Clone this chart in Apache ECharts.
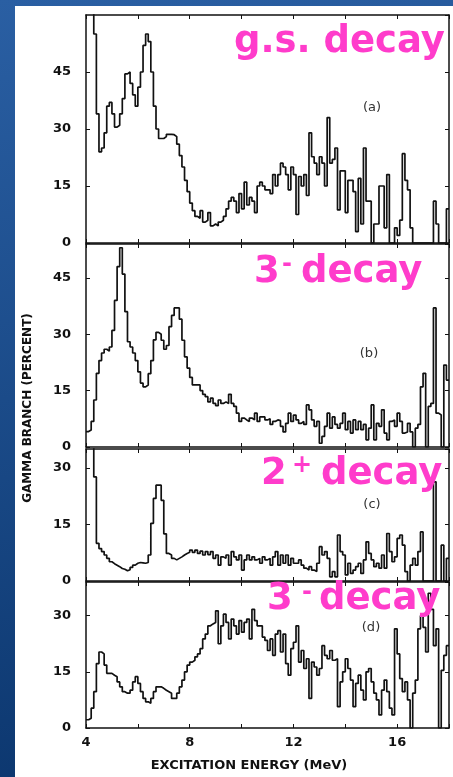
<!DOCTYPE html>
<html><head><meta charset="utf-8">
<script src="https://cdn.jsdelivr.net/npm/echarts@6/dist/echarts.min.js"></script>
<style>html,body{margin:0;padding:0;background:#1b4f8f;}#c{width:453px;height:777px;}</style>
</head><body><div id="c"></div>
<script>
// Excitation-energy bins: first bin starts at 4 MeV, bins are 0.1 MeV wide
const E_START = 4, E_END = 18, BIN_WIDTH = 0.1;

// (a) ground-state decay, gamma branch (percent) per bin
const gsDecay = [
  70, 70, 70, 55, 34, 24, 25, 29, 36, 37,
  34, 30.5, 31, 34, 38, 44.5, 45, 42, 39, 36,
  41, 45, 52, 55, 53, 45, 36, 30, 27.5, 27.5,
  28, 28.6, 28.6, 28.5, 28, 26, 23, 20, 16.5, 13.5,
  10.5, 8.5, 7, 6.5, 8.5, 5.5, 6, 8, 4.5, 5,
  4.5, 5.5, 6, 7, 9, 11, 12, 11, 8, 13,
  9, 16, 10, 12, 11, 8, 15, 16, 15, 14,
  14, 13, 18, 15, 18, 21, 20, 18, 14, 20,
  18, 7.5, 17.5, 15, 18, 12.5, 29, 22.7, 21, 18,
  22.7, 21, 15, 33, 21, 22, 25, 8.7, 19, 19,
  8, 16.5, 16.5, 13.5, 3, 17, 5, 25, 11, 11,
  0, 5, 5, 15, 15, 4, 18, 0, 0, 4,
  2, 6, 23.5, 16.5, 14, 4, 0, 0, 0, 0,
  0, 0, 0, 0, 11, 5, 0, 0, 0, 9
];
// (b) 3- decay
const minus3DecayB = [
  4.1, 4.5, 6.8, 12.5, 19.6, 23, 25, 26, 25.5, 26.6,
  31, 39, 48, 53, 46, 36, 28, 26.6, 25, 23,
  20, 17, 16, 16.5, 19.5, 23, 28.5, 30.5, 30, 28.4,
  26, 27, 32, 35, 37, 37, 34, 28.4, 24, 21,
  18.5, 16.5, 16.5, 16.5, 15, 14, 13.4, 12, 13, 11.6,
  11, 12.5, 11.6, 12, 11.6, 14, 11.6, 10.8, 9, 6.8,
  7.7, 7.2, 6.8, 7.7, 7.2, 9, 6.8, 8, 8, 7.2,
  7.5, 6, 6.8, 7.2, 7, 5.5, 4, 6.3, 9, 6.8,
  8.5, 7.2, 6.3, 6.8, 6, 11.2, 9.9, 7.2, 5.5, 6.8,
  1, 2.8, 5.5, 9, 5, 8, 6, 5, 6.3, 9,
  4.6, 6.8, 3.7, 7.2, 4.6, 6.8, 4.6, 6, 1.9, 5,
  11.2, 1.9, 6.3, 5.5, 9.9, 3.7, 1.9, 6.8, 7.2, 5.5,
  9, 6.8, 3.7, 4, 6.3, 4, 0, 5, 6, 16,
  19.6, 0, 10.8, 11.6, 37, 9, 8.5, 0, 21.8, 17.8
];
// (c) 2+ decay
const plus2Decay = [
  40, 40, 40, 27.6, 10, 8.6, 7.8, 6.9, 6, 5.1,
  4.6, 4.2, 3.8, 3.3, 3.1, 2.7, 3, 3.6, 4.2, 4.7,
  4.9, 4.8, 4.7, 4.9, 6.9, 15.3, 21.9, 25.4, 25.4, 21.4,
  12.5, 7.3, 6.9, 6, 5.6, 6, 6.4, 6.9, 7.3, 7.6,
  8.2, 7.6, 8.2, 7.3, 7.9, 6.9, 7.8, 7, 7.8, 6,
  6.9, 4.2, 6.4, 6, 6.9, 4.2, 7.8, 6.4, 5.6, 6.9,
  2.9, 5.6, 6.9, 5.6, 6.4, 5.6, 6, 4.7, 6.4, 5.6,
  6, 4.2, 6.4, 7.8, 4.2, 6.9, 4.7, 6.9, 4.2, 6,
  4.7, 4.7, 5.6, 4.2, 3.4, 2.9, 3.8, 2.9, 2.5, 4.7,
  9.1, 6.9, 7.8, 6, 1.1, 2.5, 1.1, 12.2, 7.8, 6.9,
  1.6, 4.7, 2, 2.9, 3.8, 4.7, 2, 5.6, 10.4, 7.3,
  5.6, 3.8, 4.7, 3.4, 6.9, 3.4, 12.6, 7.8, 5.1, 6.4,
  11.3, 12.2, 9.5, 2.5, 0, 4.2, 6, 4.2, 7.8, 13,
  0, 0, 0, 0, 26.3, 0, 0, 9.5, 0, 6
];
// (d) 3- decay
const minus3DecayD = [
  2.2, 2.6, 5.3, 9.7, 17.2, 20.3, 19.8, 16.8, 14.6, 14.6,
  14.1, 13.7, 12.3, 11, 9.7, 9.3, 9.3, 10.1, 12.3, 13.7,
  11.9, 9.7, 7.9, 7, 6.6, 7.9, 9.7, 11, 11, 10.6,
  10.1, 9.7, 9.3, 7.9, 7.9, 9.3, 11, 12.8, 15, 16.8,
  17.6, 18.1, 19, 19.8, 21.2, 23.8, 25.1, 27.3, 27.8, 28.2,
  31.3, 22.5, 27.3, 30.4, 28.2, 23.8, 29.1, 27.3, 25.1, 28.7,
  25.6, 28.2, 29.1, 23.8, 31.7, 28.7, 27.3, 27.3, 24.3, 23.4,
  20.7, 23.8, 19.4, 25.1, 26, 20.3, 25.1, 17.2, 14.1, 21.2,
  22.9, 27.3, 17.6, 20.7, 15.9, 18.5, 7.9, 17.6, 16.3, 14.1,
  15.9, 22, 19.4, 18.5, 20.7, 18.1, 18.5, 5.7, 12.3, 15,
  18.5, 15.9, 12.8, 5.7, 11.9, 14.1, 10.1, 7.5, 15, 15.9,
  12.3, 9.3, 7.5, 3.5, 10.1, 12.8, 9.7, 5.3, 3.5, 26.5,
  19.8, 13.2, 9.7, 12.3, 7.5, 0, 9.3, 12.8, 26.5, 30,
  26.9, 20.3, 36, 31.7, 22, 26.5, 0, 15.4, 19.4, 22
];

const panelSeries = [gsDecay, minus3DecayB, plus2Decay, minus3DecayD];
const panelYMax = [60, 54, 35, 39];
const panelYTicks = [[0, 15, 30, 45], [0, 15, 30, 45], [0, 15, 30], [0, 15, 30]];
const xTickLabels = [4, 8, 12, 16];
const panelTags = ['(a)', '(b)', '(c)', '(d)'];
const yTitle = 'GAMMA BRANCH (PERCENT)';
const xTitle = 'EXCITATION ENERGY (MeV)';

const INK = '#111';
const PINK = '#ff3ccb';
const gridBoxes = [
  {top: 15, height: 228},
  {top: 244, height: 203},
  {top: 449, height: 132},
  {top: 582, height: 146}
];

function histPoints(vals) {
  const pts = vals.map((v, k) => [+(E_START + k * BIN_WIDTH).toFixed(2), v]);
  pts.push([E_END, vals[vals.length - 1]]);
  return pts;
}

const grid = [], xAxis = [], yAxis = [], series = [];
gridBoxes.forEach((g, i) => {
  grid.push({left: 86, right: 4, top: g.top, height: g.height, containLabel: false});
  const lineStyle = {color: INK, width: 1.5};
  const tick = {inside: true, length: 4, lineStyle: {color: INK, width: 1}};
  ['bottom', 'top'].forEach(pos => {
    xAxis.push({
      type: 'value', gridIndex: i, position: pos, min: E_START, max: E_END, interval: 2,
      axisLine: {show: true, onZero: false, lineStyle},
      axisTick: tick, splitLine: {show: false},
      axisLabel: {
        show: pos === 'bottom' && i === 3,
        formatter: v => xTickLabels.includes(v) ? String(v) : '',
        color: INK, fontWeight: 'bold', fontSize: 13, fontFamily: 'DejaVu Sans', margin: 8
      }
    });
  });
  ['left', 'right'].forEach(pos => {
    yAxis.push({
      type: 'value', gridIndex: i, position: pos, min: 0, max: panelYMax[i], interval: 15,
      axisLine: {show: true, onZero: false, lineStyle},
      axisTick: tick, splitLine: {show: false},
      axisLabel: {
        show: pos === 'left', showMaxLabel: false,
        formatter: v => panelYTicks[i].includes(v) ? String(v) : '',
        color: INK, fontWeight: 'bold', fontSize: 13, fontFamily: 'DejaVu Sans', margin: 15,
        padding: [0, 0, 8, 0]
      }
    });
  });
  series.push({
    type: 'line', xAxisIndex: 2 * i, yAxisIndex: 2 * i, step: 'end', symbol: 'none',
    clip: true, connectNulls: false,
    lineStyle: {color: INK, width: 1.7}, data: histPoints(panelSeries[i]), z: 5
  });
});

const pinkFont = 'bold 37px "DejaVu Sans"';
const supFont = 'bold 24px "DejaVu Sans"';
function t(x, y, text, font, fill, align, extra) {
  return Object.assign({type: 'text', x, y, z: 100,
    style: {text, font, fill, align: align || 'left', verticalAlign: 'middle'}}, extra || {});
}
const tagPos = [[372, 108], [369, 354], [372, 505], [371, 628]];

const graphic = [
  {type: 'rect', z: -10, shape: {x: 15, y: 6, width: 438, height: 771}, style: {fill: '#ffffff'}},
  t(28, 408, yTitle, 'bold 12px "DejaVu Sans"', INK, 'center', {rotation: Math.PI / 2}),
  t(249, 766, xTitle, 'bold 13px "DejaVu Sans"', INK, 'center'),
  t(234, 42, 'g.s. decay', pinkFont, PINK),
  t(254, 272, '3', pinkFont, PINK),
  t(282, 265, '-', supFont, PINK),
  t(301, 272, 'decay', pinkFont, PINK),
  t(261, 474, '2', pinkFont, PINK),
  t(292, 466, '+', supFont, PINK),
  t(321, 474, 'decay', pinkFont, PINK),
  t(267, 599, '3', pinkFont, PINK),
  t(302, 593, '-', supFont, PINK),
  t(319, 599, 'decay', pinkFont, PINK)
];
panelTags.forEach((s, i) => graphic.push(t(tagPos[i][0], tagPos[i][1], s, '13px "DejaVu Sans"', '#333', 'center')));

const chart = echarts.init(document.getElementById('c'), null, {renderer: 'canvas'});
chart.setOption({
  animation: false,
  backgroundColor: {type: 'linear', x: 0, y: 0, x2: 0.3, y2: 1,
    colorStops: [{offset: 0, color: '#2a5fa3'}, {offset: 1, color: '#0c376f'}]},
  grid, xAxis, yAxis, series, graphic
});
</script></body></html>
